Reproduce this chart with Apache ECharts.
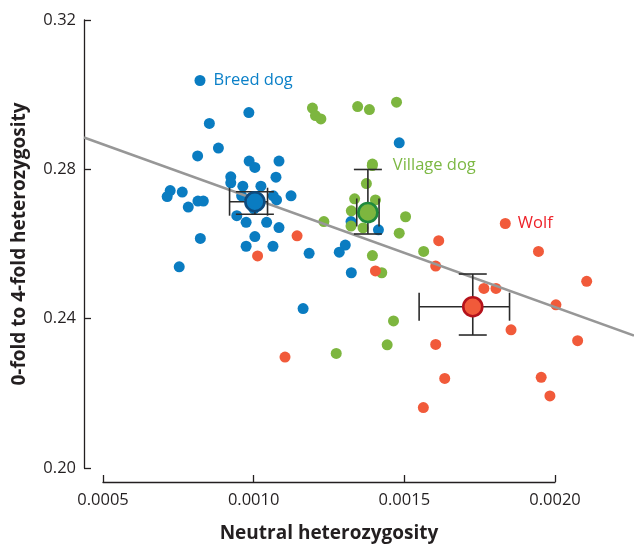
<!DOCTYPE html>
<html><head><meta charset="utf-8">
<script src="https://cdn.jsdelivr.net/npm/echarts@6/dist/echarts.min.js"></script>
<style>html,body{margin:0;padding:0;background:#fff}#c{width:634px;height:548px}</style>
</head><body><div id="c"></div>
<script>
// ---- data (neutral heterozygosity, 0-fold/4-fold heterozygosity) ----
const breedDog = [
  [0.000984,0.2952],[0.000853,0.2923],[0.000883,0.2857],[0.000814,0.2836],
  [0.000985,0.2822],[0.001004,0.2805],[0.001084,0.2822],[0.001074,0.2779],
  [0.000924,0.2780],[0.000924,0.2764],[0.000964,0.2755],[0.001024,0.2755],
  [0.001065,0.2729],[0.001076,0.2718],[0.001124,0.2729],[0.000723,0.2743],
  [0.000713,0.2727],[0.000763,0.2739],[0.000815,0.2715],[0.000833,0.2715],
  [0.000783,0.2699],[0.000960,0.2729],[0.000944,0.2676],[0.000975,0.2658],
  [0.001043,0.2658],[0.001084,0.2644],[0.000823,0.2615],[0.001004,0.2620],
  [0.000975,0.2594],[0.001064,0.2594],[0.000753,0.2539],[0.001184,0.2575],
  [0.001483,0.2871],[0.001323,0.2660],[0.001414,0.2638],[0.001304,0.2597],
  [0.001284,0.2578],[0.001324,0.2523],[0.001164,0.2427],[0.001001,0.2694]
];
const villageDog = [
  [0.001195,0.2964],[0.001205,0.2944],[0.001223,0.2935],[0.001345,0.2968],
  [0.001384,0.2960],[0.001474,0.2980],[0.001394,0.2814],[0.001374,0.2762],
  [0.001335,0.2721],[0.001404,0.2718],[0.001324,0.2689],[0.001323,0.2648],
  [0.001363,0.2643],[0.001233,0.2660],[0.001504,0.2673],[0.001483,0.2629],
  [0.001394,0.2569],[0.001425,0.2523],[0.001564,0.2580],[0.001464,0.2394],
  [0.001443,0.2330],[0.001274,0.2307]
];
const wolf = [
  [0.001144,0.2622],[0.001013,0.2568],[0.001104,0.2297],[0.001404,0.2528],
  [0.001614,0.2609],[0.001604,0.2541],[0.001945,0.2580],[0.002105,0.2500],
  [0.001764,0.2481],[0.001804,0.2481],[0.002003,0.2437],[0.001854,0.2370],
  [0.001604,0.2331],[0.002075,0.2341],[0.001634,0.2240],[0.001954,0.2243],
  [0.001983,0.2193],[0.001563,0.2162]
];
// group means: [x mean, y mean, x low, x high, y low, y high]
const breedMean   = [0.001004,0.27133,0.000920,0.001046,0.26796,0.27401];
const villageMean = [0.001379,0.26844,0.001342,0.001416,0.26268,0.27996];
const wolfMean    = [0.001727,0.24320,0.001549,0.001849,0.23562,0.25196];
// regression line endpoints
const regression = [[0.000437,0.28853],[0.002262,0.23549]];
// axis ticks
const yTicks = [0.20,0.24,0.28,0.32];
const xTicks = [0.0005,0.0010,0.0015,0.0020];
const groupNames = ['Breed dog','Village dog','Wolf'];

// ---- styles ----
const FONT = 'Open Sans';
const AX = '#231f20';
const C_BLUE = '#0a7cc1', C_GREEN = '#7db63f', C_RED = '#f15a3a';

function errorBar(capH, capV) {
  return function (params, api) {
    const c  = api.coord([api.value(0), api.value(1)]);
    const xl = api.coord([api.value(2), api.value(1)]);
    const xh = api.coord([api.value(3), api.value(1)]);
    const yl = api.coord([api.value(0), api.value(4)]);
    const yh = api.coord([api.value(0), api.value(5)]);
    const st = {stroke:'#2b2b2b', lineWidth:1.6, fill:null};
    return {type:'group', children:[
      {type:'line', shape:{x1:xl[0],y1:c[1],x2:xh[0],y2:c[1]}, style:st},
      {type:'line', shape:{x1:xl[0],y1:c[1]-capH,x2:xl[0],y2:c[1]+capH}, style:st},
      {type:'line', shape:{x1:xh[0],y1:c[1]-capH,x2:xh[0],y2:c[1]+capH}, style:st},
      {type:'line', shape:{x1:c[0],y1:yl[1],x2:c[0],y2:yh[1]}, style:st},
      {type:'line', shape:{x1:c[0]-capV,y1:yl[1],x2:c[0]+capV,y2:yl[1]}, style:st},
      {type:'line', shape:{x1:c[0]-capV,y1:yh[1],x2:c[0]+capV,y2:yh[1]}, style:st}
    ]};
  };
}

function legendAt(name, left, top, color, padLeft) {
  return {
    data:[name], left:left, top:top, padding:0, orient:'horizontal',
    icon:'circle', itemWidth:11, itemHeight:11, selectedMode:false,
    textStyle:{color:color, fontFamily:FONT, fontSize:16.5, padding:[0,0,0,padLeft]}
  };
}

const chart = echarts.init(document.getElementById('c'), null, {renderer:'canvas'});
chart.setOption({
  animation:false,
  backgroundColor:'#fff',
  legend:[
    legendAt(groupNames[0], 194.5, 72, '#0b80c8', 3),
    legendAt(groupNames[1], 366.8, 157, '#7cb843', 10),
    legendAt(groupNames[2], 499.8, 215, '#ee2229', 2)
  ],
  grid:[
    {left:84, right:0, top:20, bottom:80},
    {left:103, right:79, top:20, bottom:80}
  ],
  xAxis:[
    {gridIndex:0, type:'value', min:0.000437, max:0.002262, show:false},
    {gridIndex:1, type:'value', min:xTicks[0], max:xTicks[xTicks.length-1], interval:0.0005,
     offset:18, position:'bottom',
     axisLine:{show:true, lineStyle:{color:AX, width:1.3}},
     axisTick:{show:true, inside:true, length:7, lineStyle:{color:AX, width:1.3}},
     axisLabel:{color:AX, fontFamily:FONT, fontSize:16.5, margin:10,
                formatter:v => v.toFixed(4)},
     splitLine:{show:false},
     name:'Neutral heterozygosity', nameLocation:'middle', nameGap:42,
     nameTextStyle:{color:AX, fontFamily:FONT, fontSize:19, fontWeight:'bold'}}
  ],
  yAxis:[
    {gridIndex:0, type:'value', min:yTicks[0], max:yTicks[yTicks.length-1], interval:0.04,
     axisLine:{show:true, lineStyle:{color:AX, width:1.3}},
     axisTick:{show:true, inside:true, length:7, lineStyle:{color:AX, width:1.3}},
     axisLabel:{color:AX, fontFamily:FONT, fontSize:16.5, margin:8,
                formatter:v => v.toFixed(2)},
     splitLine:{show:false},
     name:'0-fold to 4-fold heterozygosity', nameLocation:'middle', nameGap:55,
     nameTextStyle:{color:AX, fontFamily:FONT, fontSize:19, fontWeight:'bold'}},
    {gridIndex:1, type:'value', min:yTicks[0], max:yTicks[yTicks.length-1], show:false}
  ],
  series:[
    {name:groupNames[0], type:'scatter', xAxisIndex:0, yAxisIndex:0, data:breedDog,
     symbolSize:11, itemStyle:{color:C_BLUE, opacity:1}, z:2},
    {name:groupNames[1], type:'scatter', xAxisIndex:0, yAxisIndex:0, data:villageDog,
     symbolSize:11, itemStyle:{color:C_GREEN, opacity:1}, z:2},
    {name:groupNames[2], type:'scatter', xAxisIndex:0, yAxisIndex:0, data:wolf,
     symbolSize:11, itemStyle:{color:C_RED, opacity:1}, z:2},
    {name:'regression', type:'line', xAxisIndex:0, yAxisIndex:0, data:regression,
     showSymbol:false, symbol:'none', lineStyle:{color:'#979797', width:2.5}, z:3, silent:true},
    {name:'breedErr', type:'custom', xAxisIndex:0, yAxisIndex:0, data:[breedMean],
     renderItem:errorBar(14,19), encode:{x:0,y:1}, z:4, silent:true},
    {name:'villageErr', type:'custom', xAxisIndex:0, yAxisIndex:0, data:[villageMean],
     renderItem:errorBar(14,14), encode:{x:0,y:1}, z:4, silent:true},
    {name:'wolfErr', type:'custom', xAxisIndex:0, yAxisIndex:0, data:[wolfMean],
     renderItem:errorBar(14,14), encode:{x:0,y:1}, z:4, silent:true},
    {name:'Breed dog mean', type:'scatter', xAxisIndex:0, yAxisIndex:0,
     data:[breedMean.slice(0,2)], symbolSize:19,
     itemStyle:{color:C_BLUE, borderColor:'#0d4a7d', borderWidth:2.6, opacity:1}, z:5},
    {name:'Village dog mean', type:'scatter', xAxisIndex:0, yAxisIndex:0,
     data:[villageMean.slice(0,2)], symbolSize:19,
     itemStyle:{color:C_GREEN, borderColor:'#1f8a3d', borderWidth:2.6, opacity:1}, z:5},
    {name:'Wolf mean', type:'scatter', xAxisIndex:0, yAxisIndex:0,
     data:[wolfMean.slice(0,2)], symbolSize:19,
     itemStyle:{color:C_RED, borderColor:'#b5121b', borderWidth:2.6, opacity:1}, z:5},
    {name:'xaxisHolder', type:'scatter', xAxisIndex:1, yAxisIndex:1, data:[], silent:true}
  ]
});
</script></body></html>
